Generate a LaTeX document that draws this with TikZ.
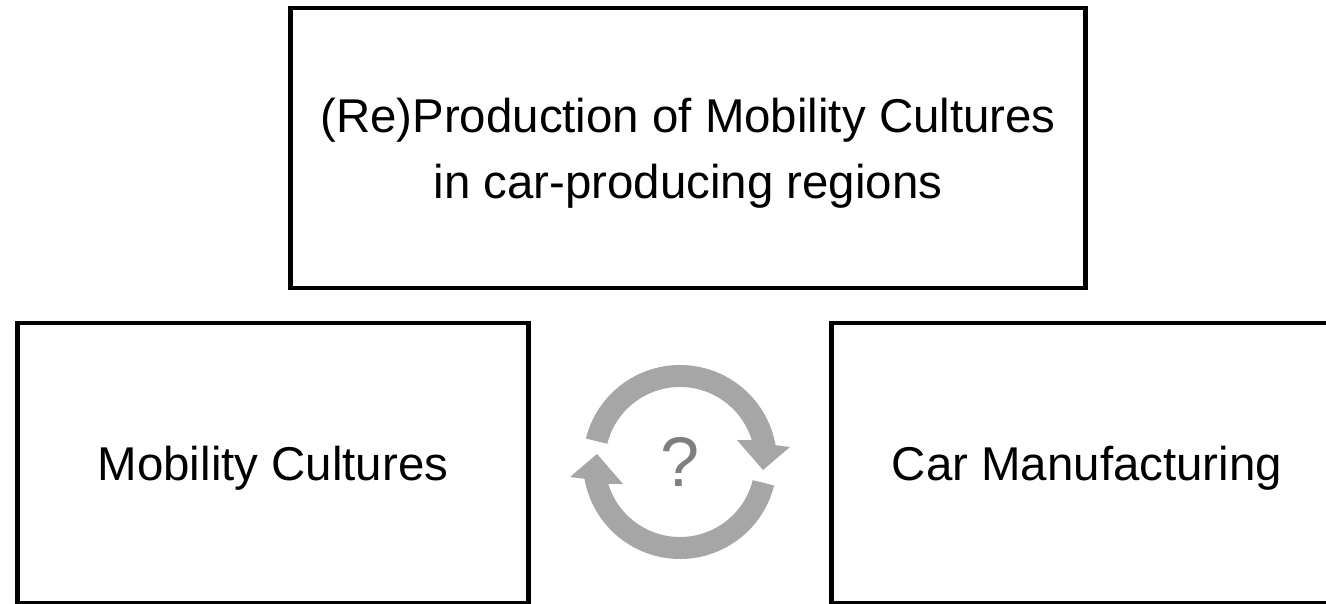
\documentclass[tikz,border=0pt]{standalone}
\usepackage{fontspec}
\setmainfont{Liberation Sans}
\definecolor{arrowgray}{HTML}{A6A6A6}
\definecolor{markgray}{HTML}{7F7F7F}
\begin{document}
\begin{tikzpicture}[x=0.02cm,y=0.02cm,
        box/.style={draw,line width=2.8pt,text depth=0pt,align=center,
            font=\fontsize{27}{37.6}\selectfont},
        cycle arrow/.style={fill=arrowgray}]
        \useasboundingbox (0,0) rectangle (1326,604);
        \node[box,minimum width=15.92cm,minimum height=5.6cm] (regions) at (688,456)
            {(Re)Production of Mobility Cultures\\in car-producing regions};
        \node[box,minimum width=10.24cm,minimum height=5.6cm] (cultures) at (273,141) {Mobility Cultures};
        \node[box,minimum width=10.24cm,minimum height=5.6cm] (manufacturing) at (1087,141) {Car Manufacturing};
        % the two turning arrows between the boxes
        \foreach \r in {0,180}
            \fill[cycle arrow,shift={(680,142)},rotate=\r] (166:97)
                arc[start angle=166,end angle=10,radius=97]
                -- (110,15) -- (83,-8) -- (57,22) -- (17:75)
                arc[start angle=17,end angle=166,radius=75] -- cycle;
        \node[text=markgray,text depth=0pt,font=\fontsize{40}{48}\selectfont] (question) at (680,142) {?};
    \end{tikzpicture}
\end{document}
